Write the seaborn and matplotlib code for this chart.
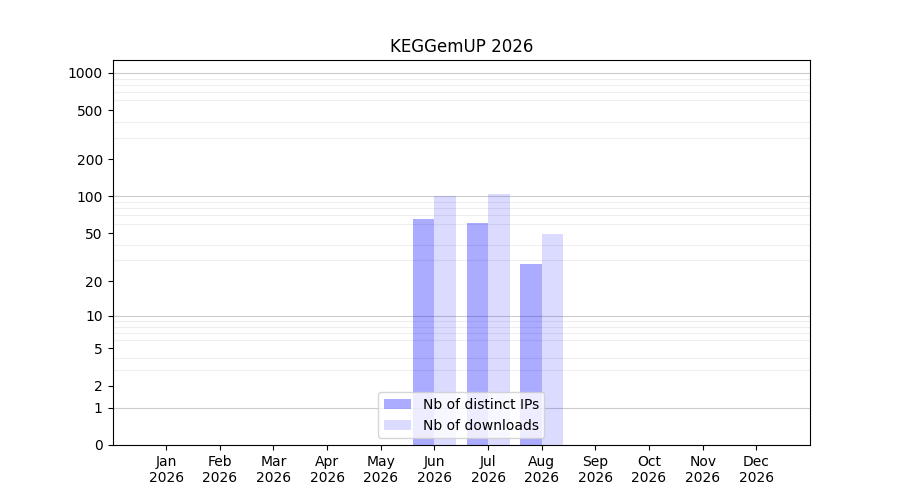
import matplotlib
matplotlib.use('Agg')
import matplotlib.pyplot as plt
from matplotlib.ticker import FixedLocator, NullFormatter
import numpy as np
import pandas as pd
import seaborn as sns

months = ['Jan', 'Feb', 'Mar', 'Apr', 'May', 'Jun',
          'Jul', 'Aug', 'Sep', 'Oct', 'Nov', 'Dec']
year = '2026'
distinct_ips = [0, 0, 0, 0, 0, 66, 61, 28, 0, 0, 0, 0]
downloads = [0, 0, 0, 0, 0, 101, 105, 49, 0, 0, 0, 0]
series_labels = ['Nb of distinct IPs', 'Nb of downloads']
ytick_values = [0, 1, 2, 5, 10, 20, 50, 100, 200, 500, 1000]

df = pd.DataFrame({
    'month': months * 2,
    'value': distinct_ips + downloads,
    'series': [series_labels[0]] * 12 + [series_labels[1]] * 12,
})

fig, ax = plt.subplots(figsize=(9, 5), dpi=100)
sns.barplot(data=df, x='month', y='value', hue='series',
            palette=['blue', 'blue'], saturation=1, width=0.8,
            legend=False, ax=ax)

# transparency so the grid shows through the bars
for container, alpha in zip(ax.containers, [0.33, 0.14]):
    for patch in container:
        patch.set_alpha(alpha)
        patch.set_edgecolor('none')

ax.set_yscale('function', functions=(lambda v: np.log10(np.maximum(v, 0) + 1),
                                     lambda v: 10 ** v - 1))
ax.set_ylim(0, 1270)
ax.set_xlim(-1, 12)

ax.yaxis.set_major_locator(FixedLocator(ytick_values))
ax.set_yticklabels([str(v) for v in ytick_values])
minor = [m * 10 ** d for d in range(3) for m in range(2, 10)]
ax.yaxis.set_minor_locator(FixedLocator(minor))
ax.yaxis.set_minor_formatter(NullFormatter())
ax.tick_params(axis='y', which='minor', length=0)
ax.grid(False)
ax.grid(True, axis='y', which='minor', color='#eeeeee', linewidth=0.8)
for v in [1, 10, 100, 1000]:
    ax.axhline(v, color='#cccccc', linewidth=0.8, zorder=0.5)
ax.set_axisbelow(True)

ax.set_xticks(range(12))
ax.set_xticklabels([f'{m}\n{year}' for m in months])
ax.set_xlabel('')
ax.set_ylabel('')
ax.set_title('KEGGemUP 2026')
ax.legend(ax.containers, series_labels, loc='lower center')

fig.savefig('out.png', dpi=100)
